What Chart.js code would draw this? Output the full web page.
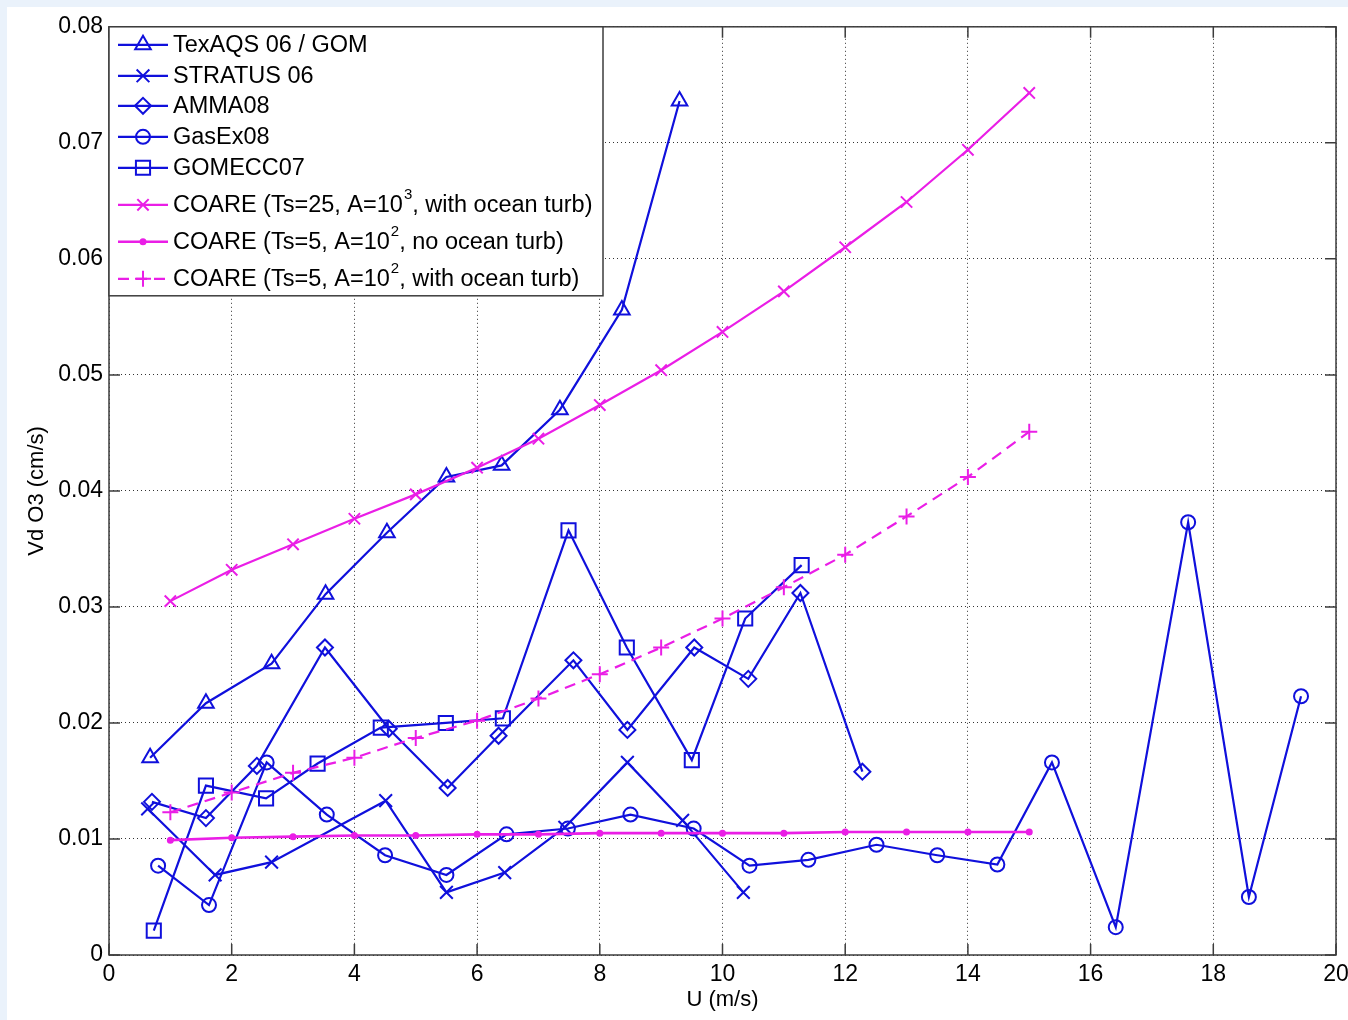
<!DOCTYPE html>
<html>
<head>
<meta charset="utf-8">
<title>Vd O3 vs U</title>
<script src="https://cdn.jsdelivr.net/npm/chart.js@4.4.1/dist/chart.umd.min.js"></script>
<style>
  html, body { margin: 0; padding: 0; background: #eaf2fb; overflow: hidden; }
  #wrap { position: absolute; left: 7px; top: 7px; width: 1341px; height: 1013px; background: #fff; }
</style>
</head>
<body>
<div id="wrap"><canvas id="chart" width="1341" height="1013"></canvas></div>
<script>
'use strict';

/* ---------- data ---------- */

const texaqsU  = [0.67, 1.58, 2.65, 3.53, 4.53, 5.50, 6.40, 7.35, 8.36, 9.30];
const texaqsVd = [0.0170, 0.0217, 0.0251, 0.0311, 0.0364, 0.0412, 0.0422, 0.0470, 0.0556, 0.0736];

const stratusU  = [0.63, 1.73, 2.65, 4.51, 5.50, 6.45, 7.43, 8.45, 9.35, 10.34];
const stratusVd = [0.0126, 0.0069, 0.0080, 0.0133, 0.0054, 0.0071, 0.0110, 0.0166, 0.0116, 0.0054];

const ammaU  = [0.70, 1.58, 2.41, 3.52, 4.56, 5.52, 6.35, 7.57, 8.45, 9.54, 10.42, 11.27, 12.28];
const ammaVd = [0.0132, 0.0118, 0.0163, 0.0265, 0.0195, 0.0144, 0.0189, 0.0254, 0.0194, 0.0265, 0.0238, 0.0312, 0.0158];

const gasexU  = [0.80, 1.63, 2.57, 3.55, 4.50, 5.50, 6.48, 7.48, 8.50, 9.53, 10.44, 11.40, 12.51, 13.50, 14.48, 15.37, 16.41, 17.59, 18.58, 19.43];
const gasexVd = [0.0077, 0.0043, 0.0166, 0.0121, 0.0086, 0.0069, 0.0104, 0.0109, 0.0121, 0.0109, 0.0077, 0.0082, 0.0095, 0.0086, 0.0078, 0.0166, 0.0024, 0.0373, 0.0050, 0.0223];

const gomeccU  = [0.73, 1.58, 2.56, 3.40, 4.43, 5.49, 6.42, 7.49, 8.44, 9.50, 10.37, 11.29];
const gomeccVd = [0.0021, 0.0146, 0.0135, 0.0165, 0.0196, 0.0200, 0.0204, 0.0366, 0.0265, 0.0168, 0.0290, 0.0336];

const coareU = [1, 2, 3, 4, 5, 6, 7, 8, 9, 10, 11, 12, 13, 14, 15];
const coareWarmTurb = [0.0305, 0.0332, 0.0354, 0.0376, 0.0397, 0.0420, 0.0445, 0.0474, 0.0504, 0.0537, 0.0572, 0.0610, 0.0649, 0.0694, 0.0743];
const coareColdNoTurb = [0.0099, 0.0101, 0.0102, 0.0103, 0.0103, 0.0104, 0.0104, 0.0105, 0.0105, 0.0105, 0.0105, 0.0106, 0.0106, 0.0106, 0.0106];
const coareColdTurb = [0.0123, 0.0140, 0.0157, 0.0170, 0.0187, 0.0202, 0.0221, 0.0242, 0.0265, 0.0290, 0.0317, 0.0345, 0.0378, 0.0412, 0.0451];

const xTickStep = 2;
const yTickStep = 0.01;

/* ---------- styling ---------- */

const BLUE = '#1010dc';
const MAGENTA = '#ea1ee6';
const FONT = "'Liberation Sans', Arial, Helvetica, sans-serif";
const TICK_LEN = 11;

function pairs(xs, ys) {
  return xs.map((x, i) => ({ x, y: ys[i] }));
}

function series(label, xs, ys, color, style, extra) {
  return Object.assign({
    label,
    data: pairs(xs, ys),
    borderColor: color,
    backgroundColor: 'rgba(0,0,0,0)',
    borderWidth: 2.2,
    pointStyle: style.pointStyle,
    pointRadius: style.radius,
    pointBorderWidth: 2,
    pointBorderColor: color,
    pointBackgroundColor: 'rgba(0,0,0,0)',
    tension: 0,
    fill: false,
  }, extra || {});
}

/* ---------- plugins ---------- */

// axes box with inward tick marks (MATLAB style)
const axesBoxPlugin = {
  id: 'axesBox',
  beforeDatasetsDraw(chart) {
    const { ctx, chartArea: a, scales: { x, y } } = chart;
    ctx.save();
    ctx.strokeStyle = '#3c3c3c';
    ctx.lineWidth = 1.5;
    ctx.beginPath();
    x.ticks.forEach(t => {
      const px = x.getPixelForValue(t.value);
      ctx.moveTo(px, a.bottom); ctx.lineTo(px, a.bottom - TICK_LEN);
      ctx.moveTo(px, a.top); ctx.lineTo(px, a.top + TICK_LEN);
    });
    y.ticks.forEach(t => {
      const py = y.getPixelForValue(t.value);
      ctx.moveTo(a.left, py); ctx.lineTo(a.left + TICK_LEN, py);
      ctx.moveTo(a.right, py); ctx.lineTo(a.right - TICK_LEN, py);
    });
    ctx.stroke();
    ctx.strokeRect(a.left, a.top, a.right - a.left, a.bottom - a.top);
    ctx.restore();
  },
};

// legend box inside the top-left corner, labels may carry ^N superscripts
const LEGEND_W = 494;
const LEGEND_H = 269;
const LEGEND_ROWS = [18, 49, 79, 110, 141, 178, 215, 252];

const insideLegendPlugin = {
  id: 'insideLegend',
  afterDatasetsDraw(chart) {
    const { ctx, chartArea: a } = chart;
    const x0 = a.left, y0 = a.top;
    ctx.save();
    ctx.fillStyle = '#fff';
    ctx.fillRect(x0, y0, LEGEND_W, LEGEND_H);
    ctx.strokeStyle = '#3c3c3c';
    ctx.lineWidth = 1.5;
    ctx.strokeRect(x0, y0, LEGEND_W, LEGEND_H);

    chart.data.datasets.forEach((ds, i) => {
      const cy = y0 + LEGEND_ROWS[i];
      // line sample
      ctx.save();
      ctx.strokeStyle = ds.borderColor;
      ctx.lineWidth = ds.borderWidth;
      ctx.setLineDash(ds.borderDash || []);
      ctx.beginPath();
      ctx.moveTo(x0 + 9, cy);
      ctx.lineTo(x0 + 59, cy);
      ctx.stroke();
      ctx.restore();
      // marker
      ctx.save();
      ctx.strokeStyle = ds.pointBorderColor;
      ctx.fillStyle = ds.pointBackgroundColor;
      ctx.lineWidth = ds.pointBorderWidth;
      Chart.helpers.drawPoint(ctx, {
        pointStyle: ds.pointStyle,
        radius: ds.pointRadius,
        borderWidth: ds.pointBorderWidth,
        rotation: 0,
      }, x0 + 34, cy);
      ctx.restore();
      // text with optional superscript
      const parts = ds.label.split(/\^(\d+)/);
      let tx = x0 + 64;
      ctx.fillStyle = '#000';
      ctx.textBaseline = 'middle';
      ctx.textAlign = 'left';
      parts.forEach((p, k) => {
        if (k % 2 === 1) {
          ctx.font = '15px ' + FONT;
          ctx.fillText(p, tx + 1, cy - 10);
          tx += ctx.measureText(p).width + 1;
        } else {
          ctx.font = '23.5px ' + FONT;
          ctx.fillText(p, tx, cy + 1);
          tx += ctx.measureText(p).width;
        }
      });
    });
    ctx.restore();
  },
};

/* ---------- chart ---------- */

const datasets = [
  series('TexAQS 06 / GOM', texaqsU, texaqsVd, BLUE, { pointStyle: 'triangle', radius: 9 }),
  series('STRATUS 06', stratusU, stratusVd, BLUE, { pointStyle: 'crossRot', radius: 9 }),
  series('AMMA08', ammaU, ammaVd, BLUE, { pointStyle: 'rectRot', radius: 8 }),
  series('GasEx08', gasexU, gasexVd, BLUE, { pointStyle: 'circle', radius: 7 }),
  series('GOMECC07', gomeccU, gomeccVd, BLUE, { pointStyle: 'rect', radius: 10 }),
  series('COARE (Ts=25, A=10^3, with ocean turb)', coareU, coareWarmTurb, MAGENTA, { pointStyle: 'crossRot', radius: 8 }),
  series('COARE (Ts=5, A=10^2, no ocean turb)', coareU, coareColdNoTurb, MAGENTA, { pointStyle: 'circle', radius: 2.5 },
    { pointBackgroundColor: MAGENTA, borderWidth: 2.6 }),
  series('COARE (Ts=5, A=10^2, with ocean turb)', coareU, coareColdTurb, MAGENTA, { pointStyle: 'cross', radius: 8 },
    { borderDash: [11, 7] }),
];
// later series are drawn on top, as in the original plot
datasets.forEach((d, i) => { d.order = datasets.length - i; });

new Chart(document.getElementById('chart').getContext('2d'), {
  type: 'line',
  data: { datasets },
  plugins: [axesBoxPlugin, insideLegendPlugin],
  options: {
    responsive: false,
    animation: false,
    layout: { padding: { top: 18, right: 11, bottom: 0, left: 0 } },
    plugins: {
      legend: { display: false },
      tooltip: { enabled: false },
    },
    scales: {
      x: {
        type: 'linear',
        min: 0,
        max: 20,
        ticks: {
          stepSize: xTickStep,
          padding: 6,
          color: '#000',
          font: { family: FONT, size: 23 },
          maxRotation: 0,
        },
        grid: { color: '#333', lineWidth: 1, drawTicks: false },
        border: { display: false, dash: [1, 3] },
        title: {
          display: true,
          text: 'U (m/s)',
          color: '#000',
          font: { family: FONT, size: 22 },
          padding: { top: 0, bottom: 7 },
        },
        afterFit(scale) {
          scale.height = 65;
          scale.paddingRight = 0;
        },
      },
      y: {
        type: 'linear',
        min: 0,
        max: 0.08,
        ticks: {
          stepSize: yTickStep,
          padding: 6,
          color: '#000',
          font: { family: FONT, size: 23 },
          callback: v => (v === 0 ? '0' : v.toFixed(2)),
        },
        grid: { color: '#333', lineWidth: 1, drawTicks: false },
        border: { display: false, dash: [1, 3] },
        title: {
          display: true,
          text: 'Vd O3 (cm/s)',
          color: '#000',
          font: { family: FONT, size: 22 },
          padding: { top: 17, bottom: 0 },
        },
        afterFit(scale) {
          scale.width = 102;
        },
      },
    },
  },
});
</script>
</body>
</html>
